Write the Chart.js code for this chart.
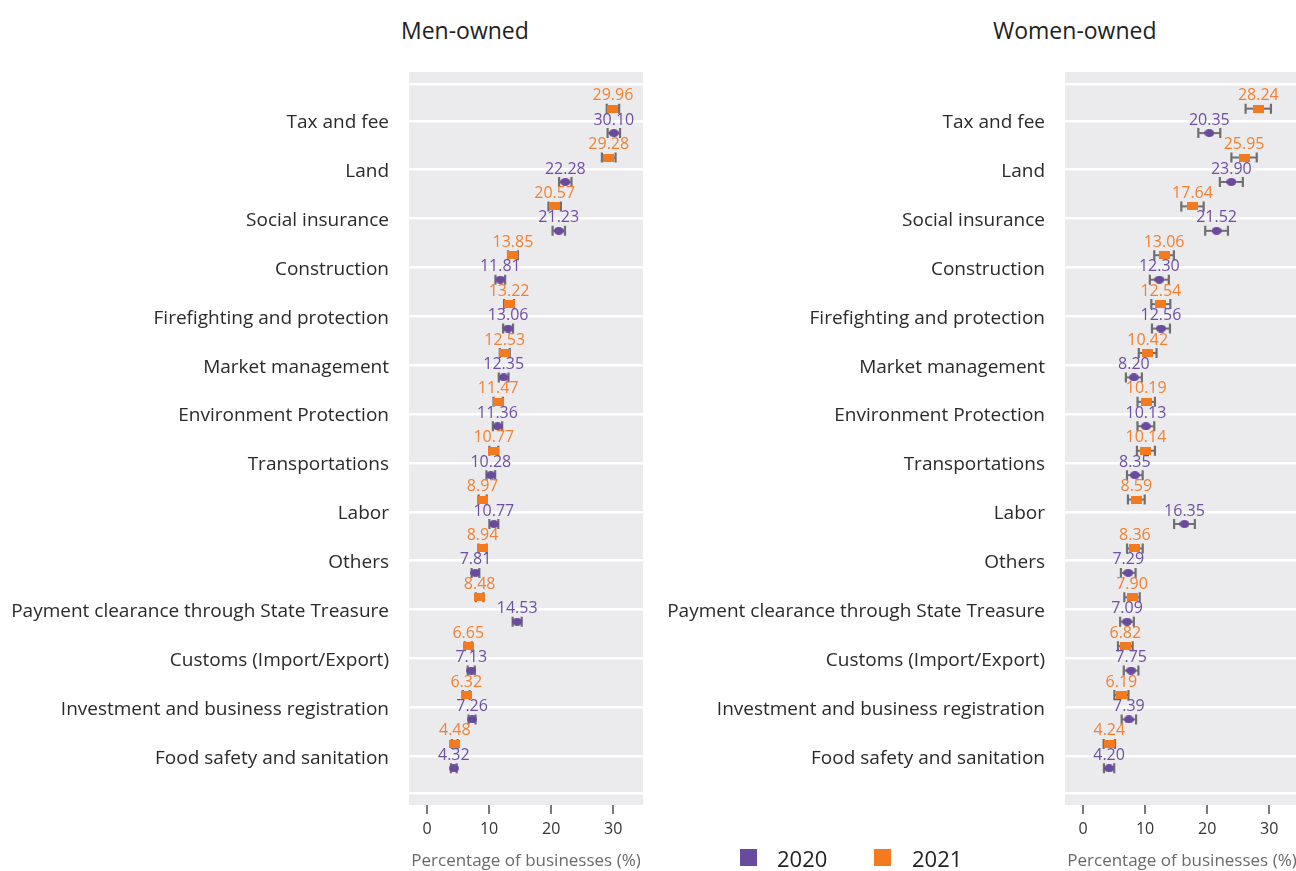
<!DOCTYPE html>
<html>
<head>
<meta charset="utf-8">
<script src="https://cdn.jsdelivr.net/npm/chart.js@4.4.1/dist/chart.umd.min.js"></script>
<style>
html,body{margin:0;padding:0;background:#fff;overflow:hidden;width:1296px;height:871px;position:relative;}
.wrap{position:absolute;top:0;height:871px;}
#w1{left:0;width:660px;}
#w2{left:650px;width:666px;}
.ptitle{position:absolute;top:13px;font-family:'Open Sans';font-size:23px;color:#222;white-space:nowrap;line-height:34px;}
.leg{position:absolute;top:849px;width:17px;height:17px;}
.legt{position:absolute;top:843px;font-family:'Open Sans';font-size:22px;color:#222;line-height:30px;}
</style>
</head>
<body>
<div class="ptitle" style="left:401px;">Men-owned</div>
<div class="ptitle" style="left:993px;">Women-owned</div>
<div class="wrap" id="w1"><canvas id="c1"></canvas></div>
<div class="wrap" id="w2"><canvas id="c2"></canvas></div>
<div class="leg" style="left:740px;background:#6a4a9c;"></div>
<div class="legt" style="left:777px;">2020</div>
<div class="leg" style="left:874px;background:#f47a20;"></div>
<div class="legt" style="left:912px;">2021</div>
<script>
const categories = ["Tax and fee","Land","Social insurance","Construction","Firefighting and protection","Market management","Environment Protection","Transportations","Labor","Others","Payment clearance through State Treasure","Customs (Import/Export)","Investment and business registration","Food safety and sanitation"];

const men2021 = [29.96, 29.28, 20.57, 13.85, 13.22, 12.53, 11.47, 10.77, 8.97, 8.94, 8.48, 6.65, 6.32, 4.48];
const men2020 = [30.10, 22.28, 21.23, 11.81, 13.06, 12.35, 11.36, 10.28, 10.77, 7.81, 14.53, 7.13, 7.26, 4.32];
const menErr2021 = [1.0, 1.1, 1.0, 0.8, 0.8, 0.8, 0.75, 0.72, 0.65, 0.65, 0.62, 0.55, 0.55, 0.46];
const menErr2020 = [1.0, 1.0, 1.0, 0.78, 0.8, 0.78, 0.75, 0.7, 0.72, 0.62, 0.73, 0.57, 0.56, 0.46];

const women2021 = [28.24, 25.95, 17.64, 13.06, 12.54, 10.42, 10.19, 10.14, 8.59, 8.36, 7.90, 6.82, 6.19, 4.24];
const women2020 = [20.35, 23.90, 21.52, 12.30, 12.56, 8.20, 10.13, 8.35, 16.35, 7.29, 7.09, 7.75, 7.39, 4.20];
const womenErr2021 = [2.04, 2.04, 1.8, 1.58, 1.53, 1.43, 1.4, 1.45, 1.35, 1.26, 1.24, 1.18, 1.13, 0.91];
const womenErr2020 = [1.77, 1.85, 1.83, 1.53, 1.45, 1.29, 1.35, 1.26, 1.67, 1.18, 1.1, 1.18, 1.16, 0.83];

const xTicks = [0, 10, 20, 30];
const seriesNames = ["2021", "2020"];

const FONT = "'Open Sans'";
const ORANGE = '#f47a20';
const PURPLE = '#6a4a9c';
const ORANGE_TXT = '#f28131';
const PURPLE_TXT = '#6e4fa3';
const BAR_GRAY = '#6f6f6f';

function markerRect(w, h, color) {
  const c = document.createElement('canvas');
  c.width = w; c.height = h;
  const g = c.getContext('2d');
  g.fillStyle = color; g.fillRect(0, 0, w, h);
  return c;
}
function markerEllipse(w, h, color) {
  const c = document.createElement('canvas');
  c.width = w; c.height = h;
  const g = c.getContext('2d');
  g.fillStyle = color;
  g.beginPath(); g.ellipse(w/2, h/2, w/2, h/2, 0, 0, Math.PI*2); g.fill();
  return c;
}
const orangeMarker = markerRect(11, 8, ORANGE);
const purpleMarker = markerEllipse(10, 8, PURPLE);

const bgPlugin = {
  id: 'panelBg',
  beforeDraw(chart) {
    const {ctx, chartArea: a} = chart;
    ctx.save();
    ctx.fillStyle = '#ebebee';
    ctx.fillRect(a.left, a.top, a.right - a.left, a.bottom - a.top);
    ctx.restore();
  }
};

const errPlugin = {
  id: 'errBars',
  beforeDatasetsDraw(chart) {
    const {ctx} = chart;
    const xs = chart.scales.x, ys = chart.scales.y;
    ctx.save();
    ctx.strokeStyle = BAR_GRAY;
    chart.data.datasets.forEach(ds => {
      ds.data.forEach((p, i) => {
        const e = ds.errors[i];
        const x1 = xs.getPixelForValue(p.x - e);
        const x2 = xs.getPixelForValue(p.x + e);
        const y = ys.getPixelForValue(p.y);
        ctx.lineWidth = 2;
        ctx.beginPath(); ctx.moveTo(x1, y); ctx.lineTo(x2, y); ctx.stroke();
        ctx.lineWidth = 2.2;
        ctx.beginPath();
        ctx.moveTo(x1, y - 5); ctx.lineTo(x1, y + 5);
        ctx.moveTo(x2, y - 5); ctx.lineTo(x2, y + 5);
        ctx.stroke();
      });
    });
    ctx.restore();
  }
};

const labelPlugin = {
  id: 'valLabels',
  afterDatasetsDraw(chart) {
    const {ctx} = chart;
    const xs = chart.scales.x, ys = chart.scales.y;
    ctx.save();
    ctx.font = "16px " + FONT;
    ctx.textAlign = 'center';
    ctx.textBaseline = 'middle';
    chart.data.datasets.forEach(ds => {
      ctx.fillStyle = ds.labelColor;
      ds.data.forEach(p => {
        ctx.fillText(p.x.toFixed(2), xs.getPixelForValue(p.x), ys.getPixelForValue(p.y) - 13);
      });
    });
    ctx.restore();
  }
};

function makeChart(id, v2021, e2021, v2020, e2020, yWidth) {
  const toPts = (arr, off) => arr.map((v, i) => ({x: v, y: i + 1 + off}));
  return new Chart(document.getElementById(id), {
    type: 'scatter',
    data: {
      datasets: [
        {label: seriesNames[0], data: toPts(v2021, -0.25), errors: e2021, labelColor: ORANGE_TXT,
         pointStyle: orangeMarker, backgroundColor: ORANGE},
        {label: seriesNames[1], data: toPts(v2020, 0.25), errors: e2020, labelColor: PURPLE_TXT,
         pointStyle: purpleMarker, backgroundColor: PURPLE}
      ]
    },
    options: {
      responsive: true,
      maintainAspectRatio: false,
      animation: false,
      events: [],
      layout: {padding: {top: 72, right: 17, bottom: 0, left: 0}},
      plugins: {legend: {display: false}, tooltip: {enabled: false}, title: {display: false}},
      scales: {
        x: {
          type: 'linear', min: -2.9, max: 34.8,
          afterBuildTicks: s => { s.ticks = xTicks.map(v => ({value: v})); },
          ticks: {font: {family: FONT, size: 16}, color: '#333', padding: 6},
          grid: {drawOnChartArea: false, drawTicks: true, tickLength: 9, color: '#7a7a7a', lineWidth: 2},
          border: {display: false},
          title: {display: true, text: 'Percentage of businesses (%)', font: {family: FONT, size: 17},
                  color: '#6a6a6a', padding: {top: 0, bottom: 0}},
          afterFit: s => { s.height = 66; }
        },
        y: {
          type: 'linear', reverse: true, min: 0, max: 15,
          afterBuildTicks: s => {
            s.ticks = [0.25, ...categories.map((c, i) => i + 1), 14.75].map(v => ({value: v}));
          },
          ticks: {
            autoSkip: false,
            callback: v => Number.isInteger(v) ? categories[v - 1] : '',
            font: {family: FONT, size: 19}, color: '#2a2a2a', padding: 20, labelOffset: 2
          },
          grid: {color: '#ffffff', lineWidth: 2.5, drawTicks: false},
          border: {display: false},
          afterFit: s => { s.width = yWidth; }
        }
      }
    },
    plugins: [bgPlugin, errPlugin, labelPlugin]
  });
}

makeChart('c1', men2021, menErr2021, men2020, menErr2020, 409);
makeChart('c2', women2021, womenErr2021, women2020, womenErr2020, 415);
</script>
</body>
</html>
